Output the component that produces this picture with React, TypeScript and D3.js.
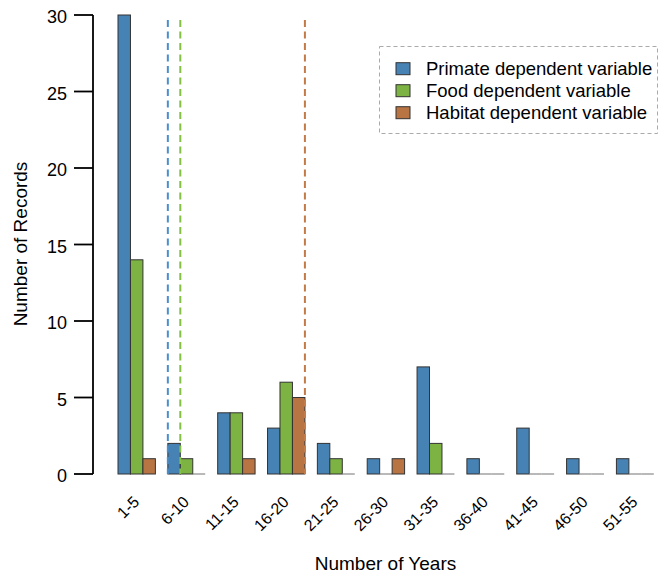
import React from "react";
import * as d3 from "d3";

const categories = ["1-5", "6-10", "11-15", "16-20", "21-25", "26-30", "31-35", "36-40", "41-45", "46-50", "51-55"];
const primate = [30, 2, 4, 3, 2, 1, 7, 1, 3, 1, 1];
const food = [14, 1, 4, 6, 1, 0, 2, 0, 0, 0, 0];
const habitat = [1, 0, 1, 5, 0, 1, 0, 0, 0, 0, 0];
const seriesNames = ["Primate dependent variable", "Food dependent variable", "Habitat dependent variable"];
const seriesColors = ["#4682B4", "#7DB343", "#B87443"];
const dashColors = ["#4A8FCC", "#84C043", "#C27A48"];
// vertical reference lines, in bar-width units (R barplot coordinates)
const refLines = [5, 6, 16];
const yTicks = [0, 5, 10, 15, 20, 25, 30];

const FONT = "'Liberation Sans', Arial, sans-serif";

export default function App() {
  const W = 659, H = 580;
  const y = d3.scaleLinear().domain([0, 30]).range([474, 15]);
  const x = d3.scaleLinear().domain([1, 44]).range([118, 653.8]);
  const series = [primate, food, habitat];
  const bw = x(2) - x(1);

  return (
    <svg width={W} height={H} style={{ position: "absolute", left: 0, top: 0, fontFamily: FONT }}>
      <rect x={0} y={0} width={W} height={H} fill="#fff" />
      {/* bars */}
      {categories.map((c, i) =>
        series.map((s, j) => {
          const left = x(1 + 4 * i + j);
          const v = s[i];
          if (v === 0) {
            return <line key={`${i}-${j}`} x1={left} x2={left + bw} y1={y(0)} y2={y(0)} stroke="#8a8a8a" strokeWidth={1.2} />;
          }
          return (
            <rect key={`${i}-${j}`} x={left} y={y(v)} width={bw} height={y(0) - y(v)}
              fill={seriesColors[j]} stroke="#333" strokeWidth={1} />
          );
        })
      )}
      {/* reference lines */}
      {refLines.map((u, k) => (
        <line key={k} x1={x(u)} x2={x(u)} y1={20} y2={474} stroke={dashColors[k]} strokeWidth={2} strokeDasharray="7,4.5" />
      ))}
      {/* y axis */}
      <line x1={93} x2={93} y1={y(0)} y2={y(30)} stroke="#000" strokeWidth={1.8} />
      {yTicks.map((t) => (
        <g key={t}>
          <line x1={74} x2={93} y1={y(t)} y2={y(t)} stroke="#000" strokeWidth={1.8} />
          <text x={67} y={y(t) + 2} dy="0.36em" textAnchor="end" fontSize={18} fill="#000">{t}</text>
        </g>
      ))}
      {/* x labels */}
      {categories.map((c, i) => {
        const cx = x(1 + 4 * i + 1.5);
        return (
          <text key={c} transform={`translate(${cx + 3.5},${503}) rotate(-45)`} textAnchor="end" fontSize={16} fill="#000">{c}</text>
        );
      })}
      <text x={385.5} y={570} textAnchor="middle" fontSize={19} fill="#000">Number of Years</text>
      <text transform={`translate(27,${244}) rotate(-90)`} textAnchor="middle" fontSize={19} fill="#000">Number of Records</text>
      {/* legend */}
      <rect x={379.5} y={46.5} width={278} height={87} fill="none" stroke="#aaa" strokeDasharray="4,3" />
      {seriesNames.map((n, k) => {
        const cy = 68.7 + 22 * k;
        return (
          <g key={n}>
            <rect x={396} y={cy - 6} width={14} height={12} fill={seriesColors[k]} stroke="#333" />
            <text x={426} y={cy} dy="0.36em" fontSize={18.5} fill="#000">{n}</text>
          </g>
        );
      })}
    </svg>
  );
}
